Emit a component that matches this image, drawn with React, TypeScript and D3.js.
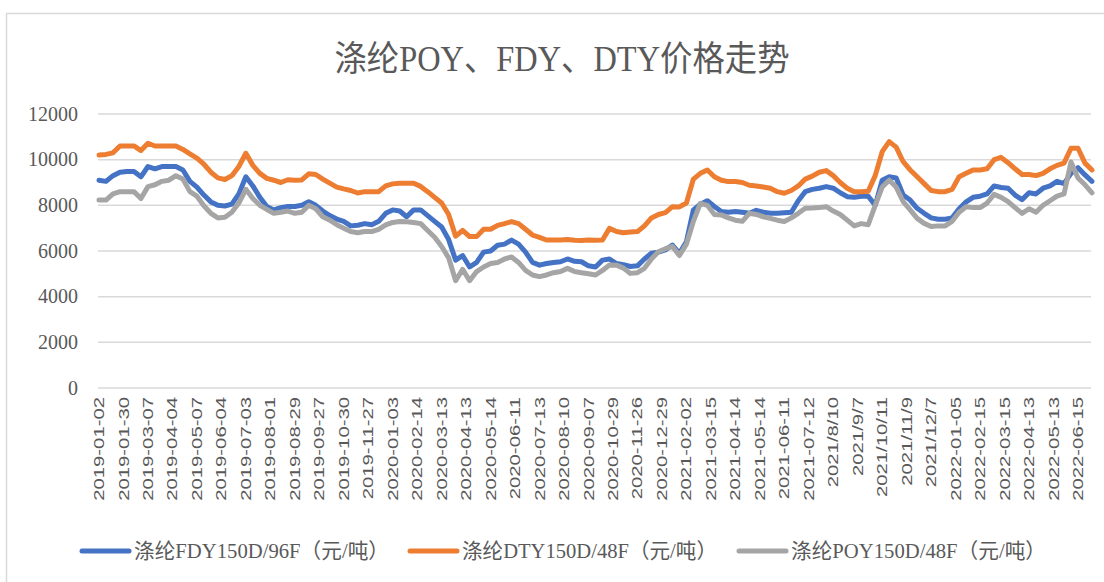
import * as d3 from 'd3'

// 采样点：每个日期标签之间约 3.5 个点
const fdy = [
  9100, 9050, 9300, 9450, 9480, 9480, 9250, 9700, 9600, 9700, 9700, 9700, 9550, 9050, 8800, 8450, 8150, 8000, 7970, 8050,
  8500, 9250, 8850, 8350, 7950, 7800, 7900, 7950, 7950, 8000, 8160, 8000, 7750, 7550, 7400, 7300, 7100, 7130, 7200, 7150,
  7300, 7650, 7800, 7750, 7500, 7800, 7800, 7550, 7300, 7050, 6500, 5600, 5800, 5300, 5500, 5950, 6000, 6250, 6300, 6480,
  6300, 5950, 5500, 5380, 5450, 5500, 5530, 5650, 5550, 5530, 5350, 5300, 5600, 5650, 5450, 5400, 5320, 5350, 5650, 5900,
  5950, 6050, 6260, 5900, 6400, 7800, 8050, 8200, 7950, 7730, 7700, 7730, 7700, 7650, 7780, 7700, 7650, 7650, 7680, 7700,
  8200, 8600, 8700, 8750, 8820, 8750, 8550, 8380, 8350, 8400, 8400, 8000, 9100, 9250, 9200, 8450, 8230, 7870, 7650, 7450,
  7390, 7390, 7450, 7850, 8150, 8350, 8400, 8500, 8850, 8780, 8750, 8450, 8250, 8550, 8500, 8750, 8850, 9050, 8950, 9400,
  9650, 9330, 9050,
]
const dty = [
  10200, 10230, 10300, 10600, 10600, 10600, 10400, 10720, 10600, 10600, 10600, 10600, 10450, 10250, 10070, 9800, 9450, 9200, 9130, 9300,
  9700, 10280, 9750, 9400, 9180, 9100, 9000, 9120, 9100, 9110, 9380, 9350, 9150, 8970, 8800, 8720, 8650, 8540, 8600, 8600,
  8600, 8850, 8940, 8970, 8970, 8970, 8830, 8600, 8350, 8100, 7600, 6650, 6900, 6630, 6630, 6950, 6950, 7120, 7200, 7290,
  7200, 6950, 6700, 6600, 6480, 6480, 6480, 6500, 6470, 6460, 6480, 6470, 6480, 6990, 6850, 6800, 6830, 6850, 7100, 7450,
  7600, 7680, 7940, 7930, 8100, 9150, 9400, 9550, 9250, 9100, 9040, 9040, 9000, 8880, 8850, 8800, 8750, 8600, 8530, 8650,
  8850, 9150, 9280, 9450, 9520, 9300, 9000, 8750, 8600, 8600, 8620, 9300, 10350, 10790, 10550, 9910, 9550, 9250, 8950, 8650,
  8600, 8600, 8700, 9250, 9400, 9550, 9550, 9600, 10000, 10100, 9870, 9600, 9350, 9350, 9300, 9400, 9600, 9750, 9850, 10500,
  10500, 9850, 9550,
]
const poy = [
  8230, 8230, 8500, 8600, 8600, 8600, 8300, 8820, 8900, 9050, 9100, 9300, 9150, 8600, 8400, 7980, 7650, 7450, 7480, 7700,
  8100, 8700, 8300, 8000, 7820, 7650, 7700, 7750, 7650, 7700, 8000, 7850, 7500, 7350, 7150, 7000, 6850, 6800, 6850, 6850,
  6950, 7140, 7250, 7290, 7280, 7250, 7200, 6900, 6600, 6200, 5700, 4700, 5200, 4700, 5100, 5300, 5450, 5500, 5650, 5740,
  5500, 5150, 4950, 4880, 4950, 5050, 5100, 5240, 5100, 5050, 5000, 4950, 5150, 5390, 5380, 5250, 5020, 5050, 5240, 5650,
  5970, 6100, 6200, 5800, 6300, 7300, 8090, 8000, 7600, 7580, 7450, 7350, 7300, 7650, 7600, 7500, 7430, 7350, 7290, 7450,
  7650, 7870, 7880, 7900, 7940, 7750, 7600, 7350, 7100, 7200, 7150, 8000, 8800, 9100, 8800, 8160, 7800, 7430, 7210, 7070,
  7100, 7100, 7300, 7700, 7940, 7900, 7900, 8100, 8480, 8350, 8160, 7900, 7650, 7850, 7700, 8000, 8200, 8400, 8500, 9900,
  9200, 8900, 8550,
]

const dateLabels = [
  '2019-01-02', '2019-01-30', '2019-03-07', '2019-04-04', '2019-05-07', '2019-06-04', '2019-07-03', '2019-08-01',
  '2019-08-29', '2019-09-27', '2019-10-30', '2019-11-27', '2020-01-03', '2020-02-14', '2020-03-13', '2020-04-13',
  '2020-05-14', '2020-06-11', '2020-07-13', '2020-08-10', '2020-09-07', '2020-10-29', '2020-11-26', '2020-12-29',
  '2021-02-02', '2021-03-15', '2021-04-14', '2021-05-14', '2021-06-11', '2021-07-12', '2021/8/10', '2021/9/7',
  '2021/10/11', '2021/11/9', '2021/12/7', '2022-01-05', '2022-02-15', '2022-03-15', '2022-04-13', '2022-05-13',
  '2022-06-15',
]
const yTicks = [0, 2000, 4000, 6000, 8000, 10000, 12000]

const series = [
  { name: '涤纶FDY150D/96F（元/吨）', values: fdy, color: '#4472C4' },
  { name: '涤纶DTY150D/48F（元/吨）', values: dty, color: '#ED7D31' },
  { name: '涤纶POY150D/48F（元/吨）', values: poy, color: '#A5A5A5' },
]

const width = 1104
const height = 582
const textColor = '#595959'
const gridColor = '#d9d9d9'
const serif = '"Liberation Serif", "Noto Sans CJK SC", serif'

export default function App() {
  const x = d3.scaleLinear().domain([0, 140]).range([99, 1078])
  const y = d3.scaleLinear().domain([0, 12000]).range([388, 114])
  const line = d3
    .line<number>()
    .x((_, i) => x(i))
    .y((d) => y(d))

  const legendX = [82, 410, 739]

  return (
    <svg
      width={width}
      height={height}
      style={{ position: 'absolute', left: 0, top: 0, background: '#fff' }}
    >
      <rect x={6.5} y={13.5} width={1120} height={600} fill="#fff" stroke={gridColor} strokeWidth={1.5} />

      <text
        x={562}
        y={71}
        textAnchor="middle"
        fontFamily={serif}
        fontSize={35}
        fill={textColor}
        textLength={455}
        lengthAdjust="spacingAndGlyphs"
      >
        涤纶POY、FDY、DTY价格走势
      </text>

      {yTicks.map((t) => (
        <g key={t}>
          <line x1={98} x2={1091} y1={y(t)} y2={y(t)} stroke={gridColor} strokeWidth={1.5} />
          <text
            x={78}
            y={y(t)}
            dy="0.33em"
            textAnchor="end"
            fontFamily={serif}
            fontSize={20}
            fill={textColor}
          >
            {t}
          </text>
        </g>
      ))}

      {dateLabels.map((d, k) => (
        <text
          key={d}
          transform={`translate(${x(k * 3.5)},397) rotate(-90) scale(1.45,1)`}
          dy="0.36em"
          textAnchor="end"
          fontFamily='"Liberation Sans", sans-serif'
          fontSize={14}
          fill={textColor}
        >
          {d}
        </text>
      ))}

      {series.map((s) => (
        <path
          key={s.name}
          d={line(s.values) ?? ''}
          fill="none"
          stroke={s.color}
          strokeWidth={5}
          strokeLinejoin="round"
          strokeLinecap="round"
        />
      ))}

      {series.map((s, i) => (
        <g key={s.name} transform={`translate(${legendX[i]},551)`}>
          <line x1={0} x2={47} y1={0} y2={0} stroke={s.color} strokeWidth={5} strokeLinecap="round" />
          <text
            x={52}
            y={7}
            fontFamily={serif}
            fontSize={21}
            fill={textColor}
            textLength={255}
            lengthAdjust="spacingAndGlyphs"
          >
            {s.name}
          </text>
        </g>
      ))}
    </svg>
  )
}
